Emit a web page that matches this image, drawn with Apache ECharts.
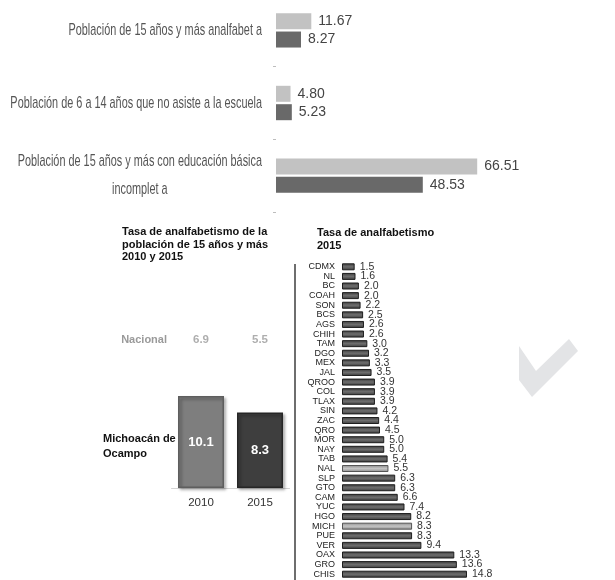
<!DOCTYPE html>
<html>
<head>
<meta charset="utf-8">
<script src="https://cdn.jsdelivr.net/npm/echarts@6/dist/echarts.min.js"></script>
<style>
  html, body { margin: 0; padding: 0; background: #fff; }
  #chart { width: 615px; height: 580px; }
</style>
</head>
<body>
<div id="chart"></div>
<script>
// indicadores (arriba)
const topCategories = [
  'Población de 15 años y más analfabet a',
  'Población de 6 a 14 años que no asiste a la escuela',
  'Población de 15 años y más con educación básica\nincomplet a'
]
const topLight = [11.67, 4.80, 66.51]
const topDark = [8.27, 5.23, 48.53]

// tasa de analfabetismo 2010 y 2015
const years = ['2010', '2015']
const nacional = [6.9, 5.5]
const michoacan = [10.1, 8.3]

// tasa de analfabetismo 2015 por entidad
const states = ['CDMX', 'NL', 'BC', 'COAH', 'SON', 'BCS', 'AGS', 'CHIH', 'TAM', 'DGO', 'MEX', 'JAL',
  'QROO', 'COL', 'TLAX', 'SIN', 'ZAC', 'QRO', 'MOR', 'NAY', 'TAB', 'NAL', 'SLP', 'GTO', 'CAM', 'YUC',
  'HGO', 'MICH', 'PUE', 'VER', 'OAX', 'GRO', 'CHIS']
const stateRates = [1.5, 1.6, 2.0, 2.0, 2.2, 2.5, 2.6, 2.6, 3.0, 3.2, 3.3, 3.5,
  3.9, 3.9, 3.9, 4.2, 4.4, 4.5, 5.0, 5.0, 5.4, 5.5, 6.3, 6.3, 6.6, 7.4,
  8.2, 8.3, 8.3, 9.4, 13.3, 13.6, 14.8]
const highlighted = ['NAL', 'MICH']

const arial = "'Liberation Sans', Arial, sans-serif"

const myChart = echarts.init(document.getElementById('chart'))

// barra con brillo al centro (como en la imagen)
const shine = (edge, mid) => new echarts.graphic.LinearGradient(0, 0, 0, 1, [
  { offset: 0, color: edge },
  { offset: 0.5, color: mid },
  { offset: 1, color: edge }
])

const baseGraphics = [
  {
    // marca de agua
    type: 'polygon', silent: true, z: -1,
    shape: { points: [[519, 346], [536, 371], [569, 339], [578, 351], [532, 397], [519, 380]] },
    style: { fill: '#e3e4e6' }
  },
  {
    type: 'line', silent: true,
    shape: { x1: 295, y1: 264, x2: 295, y2: 580 },
    style: { stroke: '#6e6e6e', lineWidth: 2 }
  },
  {
    type: 'text', left: 103, top: 431,
    style: { text: 'Michoacán de\nOcampo', fontFamily: arial, fontSize: 11, fontWeight: 'bold', fill: '#111', lineHeight: 15 }
  }
]

const option = {
  animation: false,
  backgroundColor: '#fff',
  title: [
    {
      text: 'Tasa de analfabetismo de la\npoblación de 15 años y más\n2010 y 2015',
      left: 122, top: 226, padding: 0,
      textStyle: { fontFamily: arial, fontSize: 11, fontWeight: 'bold', color: '#111', lineHeight: 12.5 }
    },
    {
      text: 'Tasa de analfabetismo\n2015',
      left: 317, top: 226, padding: 0,
      textStyle: { fontFamily: arial, fontSize: 11, fontWeight: 'bold', color: '#111', lineHeight: 13.5 }
    }
  ],
  graphic: baseGraphics,
  grid: [
    { left: 276, width: 242, top: -6, height: 218, outerBoundsMode: 'none' },
    { left: 171.5, width: 118, top: 378.7, height: 109.3, outerBoundsMode: 'none' },
    { left: 171.5, width: 118, top: 330, height: 20, outerBoundsMode: 'none' },
    { left: 342, width: 152, top: 262, height: 317, outerBoundsMode: 'none' }
  ],
  xAxis: [
    { gridIndex: 0, type: 'value', min: 0, max: 80, show: false },
    {
      gridIndex: 1, type: 'category', data: years,
      axisLine: { lineStyle: { color: '#d4d4d4' } },
      axisTick: { show: false },
      axisLabel: { margin: 9, fontFamily: arial, fontSize: 11.5, color: '#333' }
    },
    { gridIndex: 2, type: 'category', data: years, show: false },
    { gridIndex: 3, type: 'value', min: 0, max: 18, show: false }
  ],
  yAxis: [
    {
      gridIndex: 0, type: 'category', data: topCategories, inverse: true,
      axisLine: { show: false },
      axisTick: { show: true, length: 3, lineStyle: { color: '#bdbdbd' } },
      // las etiquetas se dibujan abajo, comprimidas como en el original
      axisLabel: { show: false }
    },
    { gridIndex: 1, type: 'value', min: 0, max: 12, show: false },
    {
      gridIndex: 2, type: 'category', data: ['Nacional'],
      axisLine: { show: false }, axisTick: { show: false }, splitLine: { show: false },
      axisLabel: { margin: 4.5, fontFamily: arial, fontSize: 11, fontWeight: 'bold', color: '#9a9a9a' }
    },
    {
      gridIndex: 3, type: 'category', data: states, inverse: true,
      axisLine: { show: false }, axisTick: { show: false },
      axisLabel: { margin: 7, fontFamily: arial, fontSize: 9, color: '#222', interval: 0 }
    }
  ],
  series: [
    {
      name: '2010', type: 'bar', xAxisIndex: 0, yAxisIndex: 0,
      barWidth: 16, barGap: '15%',
      itemStyle: { color: '#c2c2c2' },
      label: {
        show: true, position: 'right', distance: 7,
        fontFamily: arial, fontSize: 14, color: '#444',
        formatter: (p) => p.value.toFixed(2)
      },
      data: topLight
    },
    {
      name: '2015', type: 'bar', xAxisIndex: 0, yAxisIndex: 0,
      barWidth: 16, barGap: '15%',
      itemStyle: { color: '#696969' },
      label: {
        show: true, position: 'right', distance: 7,
        fontFamily: arial, fontSize: 14, color: '#444',
        formatter: (p) => p.value.toFixed(2)
      },
      data: topDark
    },
    {
      name: 'Michoacán de Ocampo', type: 'bar', xAxisIndex: 1, yAxisIndex: 1,
      barWidth: 46,
      label: {
        show: true, position: 'inside',
        fontFamily: arial, fontSize: 13, fontWeight: 'bold', color: '#fff',
        formatter: (p) => p.value.toFixed(1)
      },
      data: michoacan.map((v, i) => ({
        value: v,
        itemStyle: {
          color: i === 0 ? '#7e7e7e' : '#3e3e3e',
          borderColor: i === 0 ? '#5e5e5e' : '#262626',
          borderWidth: 1.5,
          shadowColor: 'rgba(0,0,0,0.35)', shadowBlur: 3, shadowOffsetX: 2, shadowOffsetY: 2
        }
      }))
    },
    {
      name: 'Nacional', type: 'scatter', xAxisIndex: 2, yAxisIndex: 2,
      symbolSize: 0,
      label: {
        show: true, position: 'inside',
        fontFamily: arial, fontSize: 11.5, fontWeight: 'bold', color: '#9a9a9a',
        formatter: (p) => p.value[2].toFixed(1)
      },
      data: nacional.map((v, i) => [i, 0, v])
    },
    {
      name: 'Tasa 2015', type: 'bar', xAxisIndex: 3, yAxisIndex: 3,
      barWidth: 7,
      label: {
        show: true, position: 'right', distance: 5,
        fontFamily: arial, fontSize: 10.5, color: '#333',
        formatter: (p) => p.value.toFixed(1)
      },
      data: stateRates.map((v, i) => ({
        value: v,
        itemStyle: highlighted.includes(states[i])
          ? { color: shine('#8c8c8c', '#c4c4c4'), borderColor: '#555', borderWidth: 1 }
          : { color: shine('#3a3a3a', '#6e6e6e'), borderColor: '#1e1e1e', borderWidth: 1 }
      }))
    }
  ]
}

myChart.setOption(option)

// etiquetas de categoría del gráfico superior, en letra angosta (escala horizontal)
const labelGraphics = topCategories.map((cat) => {
  const y = myChart.convertToPixel({ yAxisIndex: 0 }, cat)
  return {
    type: 'text', x: 262, y: y, scaleX: 0.64,
    style: {
      text: cat.split('\n').map((s) => '{c|' + s + '}').join('\n'),
      align: 'right', verticalAlign: 'middle',
      rich: { c: { align: 'center', fontFamily: arial, fontSize: 17, fill: '#555', lineHeight: 28 } }
    }
  }
})
myChart.setOption({ graphic: baseGraphics.concat(labelGraphics) })
</script>
</body>
</html>
